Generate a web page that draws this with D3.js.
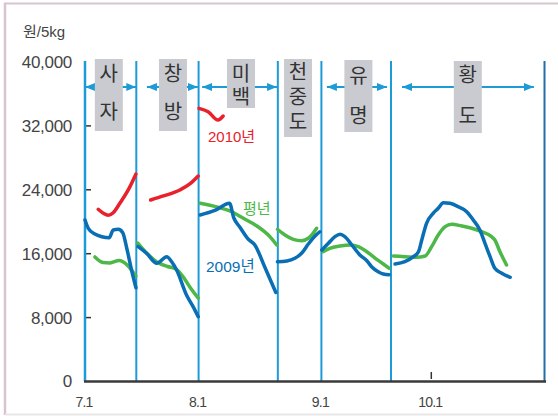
<!DOCTYPE html>
<html>
<head>
<meta charset="utf-8">
<script src="https://cdn.jsdelivr.net/npm/d3@7"></script>
<style>
  body { margin: 0; background: #fff; }
  svg text { font-family: "Liberation Sans", "Noto Sans CJK KR", sans-serif; }
</style>
</head>
<body>
<svg id="chart" width="558" height="416"></svg>
<script>
// x values are days counted from 7.1
var monthDays = [0, 31, 62, 92, 123];
var monthLabels = ["7.1", "8.1", "9.1", "10.1"];
var yTicks = [0, 8000, 16000, 24000, 32000, 40000];
var dividers = [0, 14, 31, 51, 62, 81, 123];

// variety periods: name, label day, arrow start/end (null = no arrow)
var varieties = ["사자", "창방", "미백", "천중도", "유명", "황도"];
var varietyLabelDay = [6.5, 24, 41.7, 56.1, 72.1, 102];
var varietyArrow = [[0, 14], [16.9, 30.8], [31.9, 50.8], null, [63.5, 79.9], [84, 120.1]];

var series2010 = [
  [[3.6,21560],[5.0,21060],[6.4,20810],[7.7,21130],[9.5,22310],[11.8,23980],[13.9,25980]],
  [[17.9,22720],[21.4,23230],[25.9,23980],[28.6,24730],[30.9,25730]],
  [[31.1,34200],[33.4,33780],[35.9,32740],[37.2,33240]]
];
var series2009 = [
  [[0,20220],[0.9,19180],[2.7,18470],[4.6,18130],[6.6,18000],[7.7,18970],[9.1,19050],[10.3,18630],[11.4,16680],[12.7,13960],[13.9,11740]],
  [[14.5,16880],[16.8,16050],[19.6,14800],[22.3,15630],[23.7,14960],[25.0,13960],[27.7,10830],[29.5,9370],[30.9,8110]],
  [[31.4,20850],[35.1,21410],[38.8,22310],[39.9,20470],[41.4,19340],[43.5,17840],[45.2,17090],[47.7,14330],[50.5,11140]],
  [[50.9,15000],[53.3,15090],[55.3,15420],[57.0,16050],[58.7,17210],[60.4,18220],[61.6,18750]],
  [[62.1,16460],[63.9,17300],[65.7,18130],[67.1,18430],[68.4,18130],[70.3,17090],[72.5,15840],[74.4,15120],[75.7,14370],[77.5,13750],[78.9,13460],[80.5,13370]],
  [[82.1,14710],[84.8,15000],[87.1,15630],[88.5,16250],[89.4,17720],[90.7,19810],[92.5,21060],[93.9,21680],[95.3,22390],[97.1,22310],[99.4,21880],[101.7,21260],[103.5,20220],[105.3,18970],[106.7,17300],[108.1,15630],[109.4,14170],[111.3,13550],[113.6,13050]]
];
var seriesAvg = [
  [[2.7,15590],[4.9,14900],[6.8,14840],[9.3,15150],[11.5,14590],[13.1,13710],[13.9,13210]],
  [[14.4,17340],[16.8,16090],[19.6,14970],[22.5,14400],[24.8,14090],[27.0,12960],[28.6,11830],[30.9,10450]],
  [[31.4,22310],[35.6,21850],[38.9,21350],[42.3,20430],[45.7,19470],[49.0,18130],[50.7,17090]],
  [[50.9,19060],[52.8,18340],[54.9,17800],[57.0,17630],[58.7,17930],[59.9,18550],[60.8,19180]],
  [[62.4,16250],[64.3,16680],[67.1,16960],[69.8,17090],[72.1,16880],[74.4,16250],[77.1,15300],[78.9,14710],[80.5,14170]],
  [[81.6,15710],[84.8,15630],[88.0,15550],[90.3,15710],[92.1,16880],[93.9,18340],[95.8,19380],[97.6,19680],[100.3,19470],[103.1,19180],[105.8,18750],[108.5,18130],[109.4,17720],[110.8,16250],[112.6,14590]]
];

var svg = d3.select("#chart");

var x = d3.scaleLinear().domain(monthDays).range([85, 198.6, 321.4, 431.3, 544.5]);
var y = d3.scaleLinear().domain([0, 40000]).range([381.5, 62]);

var lineBlue = "#1d9bd7", darkBlue = "#1f6fa6";

// frame
svg.append("line").attr("x1", 4).attr("x2", 558).attr("y1", 3.5).attr("y2", 3.5)
  .attr("stroke", "#d8c3cf").attr("stroke-width", 2);
svg.append("line").attr("x1", 5).attr("x2", 5).attr("y1", 3).attr("y2", 415)
  .attr("stroke", "#d8c3cf").attr("stroke-width", 2.5);
svg.append("line").attr("x1", 5).attr("x2", 558).attr("y1", 414.5).attr("y2", 414.5)
  .attr("stroke", "#e8e8e8").attr("stroke-width", 2);

// unit
svg.append("text").attr("x", 23).attr("y", 32).attr("dy", "0.35em")
  .attr("font-size", 15).attr("fill", "#444").text("원/5kg");

// y labels
svg.selectAll(".ylab").data(yTicks).enter().append("text")
  .attr("class", "ylab")
  .attr("x", 72).attr("y", function(d) { return y(d); }).attr("dy", "0.35em")
  .attr("text-anchor", "end").attr("font-size", 17).attr("fill", "#444")
  .attr("letter-spacing", -0.3)
  .text(function(d) { return d3.format(",")(d); });

// y tick marks
svg.selectAll(".ytick").data(yTicks.filter(function(d) { return d > 0 && d < 40000; })).enter().append("line")
  .attr("x1", 86).attr("x2", 91)
  .attr("y1", function(d) { return y(d); }).attr("y2", function(d) { return y(d); })
  .attr("stroke", "#333").attr("stroke-width", 1.5);

// x labels
svg.selectAll(".xlab").data(monthDays.slice(0, 4)).enter().append("text")
  .attr("x", function(d) { return x(d) - 1; }).attr("y", 402).attr("dy", "0.35em")
  .attr("text-anchor", "middle").attr("font-size", 14).attr("fill", "#444")
  .attr("letter-spacing", -0.8)
  .text(function(d, i) { return monthLabels[i]; });

// 10.1 tick
svg.append("line").attr("x1", x(92)).attr("x2", x(92)).attr("y1", 372).attr("y2", 379)
  .attr("stroke", "#333").attr("stroke-width", 1.5);

// arrow markers
var defs = svg.append("defs");
defs.append("marker").attr("id", "ah").attr("viewBox", "0 0 10 8")
  .attr("refX", 10).attr("refY", 4).attr("markerWidth", 10).attr("markerHeight", 8)
  .attr("markerUnits", "userSpaceOnUse").attr("orient", "auto-start-reverse")
  .append("path").attr("d", "M0,0L10,4L0,8Z").attr("fill", lineBlue);

svg.selectAll(".arrow").data(varietyArrow.filter(function(d) { return d; })).enter().append("line")
  .attr("x1", function(d) { return x(d[0]); }).attr("x2", function(d) { return x(d[1]); })
  .attr("y1", 87).attr("y2", 87)
  .attr("stroke", lineBlue).attr("stroke-width", 2)
  .attr("marker-start", "url(#ah)").attr("marker-end", "url(#ah)");

// variety boxes
var boxTop = [59, 59, 59, 59, 60, 61];
var boxBottom = [131, 131, 108, 137, 132, 133];
var charY = [[74, 112], [74, 112], [74, 97], [72, 97, 122], [76, 116], [75, 116]];
varieties.forEach(function(name, i) {
  var cx = x(varietyLabelDay[i]);
  svg.append("rect").attr("x", cx - 14).attr("y", boxTop[i])
    .attr("width", 28).attr("height", boxBottom[i] - boxTop[i]).attr("fill", "#c9cbd0");
  name.split("").forEach(function(ch, j) {
    svg.append("text").attr("x", cx).attr("y", charY[i][j]).attr("dy", "0.35em")
      .attr("text-anchor", "middle").attr("font-size", 20).attr("fill", "#333")
      .attr("font-family", "Noto Sans CJK KR").text(ch);
  });
});

// vertical period lines
svg.selectAll(".div").data(dividers).enter().append("line")
  .attr("x1", function(d) { return x(d); }).attr("x2", function(d) { return x(d); })
  .attr("y1", 61).attr("y2", y(0))
  .attr("stroke", function(d) { return d === 123 ? darkBlue : lineBlue; })
  .attr("stroke-width", function(d) { return d === 0 ? 2.5 : 2; });

// x axis
svg.append("line").attr("x1", 84).attr("x2", 546).attr("y1", y(0)).attr("y2", y(0))
  .attr("stroke", "#3a3a3a").attr("stroke-width", 2.5);

// series
var line = d3.line().x(function(d) { return x(d[0]); }).y(function(d) { return y(d[1]); })
  .curve(d3.curveMonotoneX);

function drawSeries(data, color) {
  svg.append("g").selectAll("path").data(data).enter().append("path")
    .attr("d", line).attr("fill", "none").attr("stroke", color)
    .attr("stroke-width", 3.5).attr("stroke-linecap", "round").attr("stroke-linejoin", "round");
}
drawSeries(seriesAvg, "#4db848");
drawSeries(series2009, "#0a6eb4");
drawSeries(series2010, "#e8212b");

// series labels
svg.append("text").attr("x", 208).attr("y", 137).attr("dy", "0.35em")
  .attr("font-size", 15).attr("fill", "#e8212b").text("2010년");
svg.append("text").attr("x", 243).attr("y", 209).attr("dy", "0.35em")
  .attr("font-size", 15).attr("fill", "#4db848").text("평년");
svg.append("text").attr("x", 206).attr("y", 267).attr("dy", "0.35em")
  .attr("font-size", 15.5).attr("fill", "#0a6eb4").text("2009년");
</script>
</body>
</html>
